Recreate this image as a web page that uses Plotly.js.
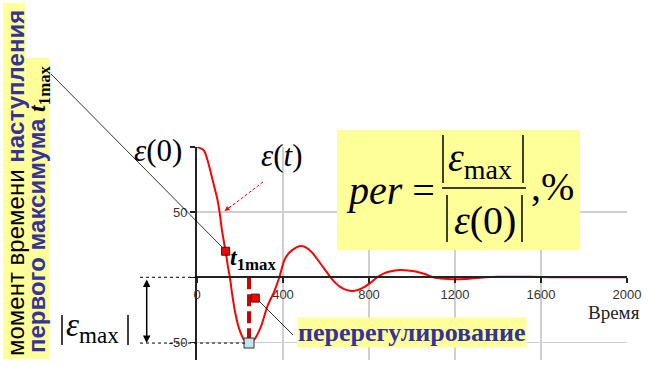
<!DOCTYPE html>
<html>
<head>
<meta charset="utf-8">
<script src="https://cdn.plot.ly/plotly-3.0.1.min.js"></script>
<style>html,body{margin:0;padding:0;background:#fff;}#chart{width:648px;height:367px;}</style>
</head>
<body>
<div id="chart"></div>
<script>
// ---- data ----
const time = [0, 31, 47, 63, 78, 94, 105, 117, 133, 145, 153, 164, 180, 195, 219, 242, 265, 297, 328, 359, 383, 406, 430, 463, 486, 510, 535, 556, 590, 621, 645, 664, 690, 719, 745, 773, 805, 838, 870, 897, 944, 980, 1021, 1060, 1099, 1150, 1192, 1240, 1285, 1340, 1400, 1500, 1600, 1700, 1800, 1900, 2000];
const errorVals = [100, 97.5, 91, 81, 71, 60.5, 50, 35, 20, 7, 0, -13.5, -29, -39, -48, -50.5, -48, -38, -22, -11, 0, 13, 19, 23, 24, 22.5, 19, 14.6, 7, 0, -4.5, -7.2, -9.5, -10.5, -10, -8, -4.5, 0, 3, 4.5, 5.5, 5.2, 4.3, 2.5, 0, -1.2, -1.6, -1.4, -0.8, 0, 0.4, 0.4, 0.2, 0, 0, 0, 0];
const markTime = [133, 271];     // t1max point, overshoot pointer
const markVals = [20, -16];
const xTickVals = [0, 400, 800, 1200, 1600, 2000];
const xTickText = ['0', '400', '800', '1200', '1600', '2000'];
const yTickVals = [100, 50, 0, -50];
const yTickText = ['', '50', '', '-50'];
const xRange = [0, 2000];
const yRange = [-63.5, 100];

// min point taken from the series
let iMin = 0;
errorVals.forEach((v, i) => { if (v < errorVals[iMin]) iMin = i; });
const minT = time[iMin], minV = errorVals[iMin];

// ---- layout helpers (pixel -> paper) ----
const W = 648, H = 367, L = 197, R = 21, T = 147, B = 7;
const pw = W - L - R, ph = H - T - B;
const PX = p => (p - L) / pw;
const PY = p => (H - B - p) / ph;
const zeroFrac = (0 - yRange[0]) / (yRange[1] - yRange[0]);

const SERIF = 'Liberation Serif, Times New Roman, serif';
const SANS = 'Liberation Sans, Arial, sans-serif';
const BLUE = '#333399';
const YEL = '#ffff99';
const EPS = '<i>ε</i>';

const traces = [
  { x: time, y: errorVals, type: 'scatter', mode: 'lines',
    line: { color: '#ff0000', width: 2, shape: 'spline', smoothing: 0.8 }, hoverinfo: 'skip' },
  { x: markTime, y: markVals, type: 'scatter', mode: 'markers',
    marker: { symbol: 'square', size: 8, color: '#ff0000', line: { color: '#222', width: 1 } }, hoverinfo: 'skip' },
  { x: [minT], y: [minV], type: 'scatter', mode: 'markers',
    marker: { symbol: 'square', size: 10, color: '#c4e4ea', line: { color: '#333', width: 1 } }, hoverinfo: 'skip' }
];

function ln(x0, y0, x1, y1, extra) {
  return Object.assign({ type: 'line', xref: 'paper', yref: 'paper', x0: PX(x0), y0: PY(y0), x1: PX(x1), y1: PY(y1),
    line: { color: '#000', width: 1.5 }, layer: 'above' }, extra || {});
}
function rect(x0, y0, x1, y1, color, layer) {
  return { type: 'rect', xref: 'paper', yref: 'paper', x0: PX(x0), y0: PY(y0), x1: PX(x1), y1: PY(y1),
    fillcolor: color, line: { width: 0 }, layer: layer };
}

const shapes = [
  rect(3, 3, 25, 359, YEL, 'below'),
  rect(26, 58, 49, 359, YEL, 'below'),
  rect(337, 130, 580, 250, YEL, 'above'),
  // formula bars
  ln(443, 135, 443, 183), ln(523, 135, 523, 183),
  ln(442, 188, 526, 188),
  ln(447, 195, 447, 242), ln(522, 195, 522, 242),
  // left |eps max| bars
  ln(62, 315, 62, 345), ln(128, 315, 128, 345),
  // dashed guide lines
  { type: 'line', xref: 'paper', yref: 'y', x0: PX(140), x1: PX(197), y0: 0, y1: 0,
    line: { color: '#000', width: 1, dash: '3px,3px' }, layer: 'above' },
  { type: 'line', xref: 'paper', yref: 'y', x0: PX(140), x1: PX(246), y0: minV, y1: minV,
    line: { color: '#000', width: 1, dash: '3px,3px' }, layer: 'above' },
  // red dashed drop line at the minimum
  { type: 'line', xref: 'x', yref: 'y', x0: minT, x1: minT, y0: 0, y1: minV,
    line: { color: '#cc0000', width: 4, dash: '12px,5px' }, layer: 'between' },
  // connectors
  ln(51, 74, 222, 247, { line: { color: '#000', width: 0.8 } }),
  ln(259, 301, 293, 335, { line: { color: '#000', width: 0.8 } }),
  // dashed red arrow shaft
  ln(263, 182, 229, 208, { line: { color: '#ff0000', width: 1, dash: '3px,2px' } })
];

function ann(text, x, y, size, extra) {
  return Object.assign({ text: text, xref: 'paper', yref: 'paper', x: PX(x), y: PY(y), showarrow: false,
    xanchor: 'center', yanchor: 'middle', font: { family: SERIF, size: size, color: '#000' } }, extra || {});
}

const annotations = [
  ann(EPS + '(0)', 157.5, 150, 31),
  ann(EPS + '(<i>t</i>)', 281.5, 155, 31),
  ann('<b><i>t</i><sub>1max</sub></b>', 228, 259, 24, { xanchor: 'left' }),
  // formula
  ann('<i>per</i> =', 344, 190, 40, { xanchor: 'left' }),
  ann(EPS + '<sub>max</sub>', 446, 160, 40, { xanchor: 'left' }),
  ann(EPS + '(0)', 484.5, 220, 40),
  ann(',%', 529, 186, 40, { xanchor: 'left' }),
  // left eps max
  ann(EPS + '<sub>max</sub>', 64, 327, 33, { xanchor: 'left' }),
  // overshoot label
  ann('<b>перерегулирование</b>', 412, 332, 26, { font: { family: SERIF, size: 26, color: BLUE }, bgcolor: YEL, borderpad: 0 }),
  // x axis name
  ann('Время', 614, 312, 19, { font: { family: SERIF, size: 19, color: '#222' } }),
  // vertical labels
  ann('момент времени <b><span style="color:' + BLUE + '">наступления</span></b>', 15, 183, 24,
    { textangle: -90, font: { family: SANS, size: 24, color: '#000' } }),
  ann('<b><span style="color:' + BLUE + '">первого максимума </span><span style="font-family:Liberation Serif"><i>t</i><sub>1max</sub></span></b>', 38, 209, 24,
    { textangle: -90, font: { family: SANS, size: 24, color: '#000' } }),
  // double arrow
  { xref: 'paper', yref: 'paper', x: PX(146.7), y: PY(343), ax: 0, ay: -65, axref: 'pixel', ayref: 'pixel',
    text: '', showarrow: true, arrowhead: 2, arrowside: 'end+start', arrowsize: 1, arrowwidth: 1.5, arrowcolor: '#000' },
  // red arrow head
  { xref: 'paper', yref: 'paper', x: PX(224.5), y: PY(211), ax: 8, ay: -6, axref: 'pixel', ayref: 'pixel',
    text: '', showarrow: true, arrowhead: 2, arrowsize: 1, arrowwidth: 1, arrowcolor: '#ff0000' }
];

const layout = {
  width: W, height: H, margin: { l: L, r: R, t: T, b: B, pad: 0 },
  paper_bgcolor: '#fff', plot_bgcolor: '#fff', showlegend: false,
  xaxis: { range: xRange, tickvals: xTickVals, ticktext: xTickText, showgrid: true, gridcolor: '#cfcfcf', gridwidth: 1.5,
    zeroline: true, zerolinecolor: '#222', zerolinewidth: 2, anchor: 'free', position: zeroFrac,
    showline: true, linecolor: '#222', linewidth: 2, ticks: 'outside', ticklen: 5, tickwidth: 1.5, tickcolor: '#222',
    tickfont: { family: SANS, size: 13, color: '#333' }, fixedrange: true },
  yaxis: { range: yRange, tickvals: yTickVals, ticktext: yTickText, showgrid: true, gridcolor: '#cfcfcf', gridwidth: 1.5,
    zeroline: true, zerolinecolor: '#222', zerolinewidth: 2, showline: true, linecolor: '#222', linewidth: 2,
    ticks: 'outside', ticklen: 5, tickwidth: 1.5, tickcolor: '#222',
    tickfont: { family: SANS, size: 13, color: '#333' }, fixedrange: true },
  shapes: shapes, annotations: annotations
};

Plotly.newPlot('chart', traces, layout, { displayModeBar: false, staticPlot: true });
</script>
</body>
</html>
